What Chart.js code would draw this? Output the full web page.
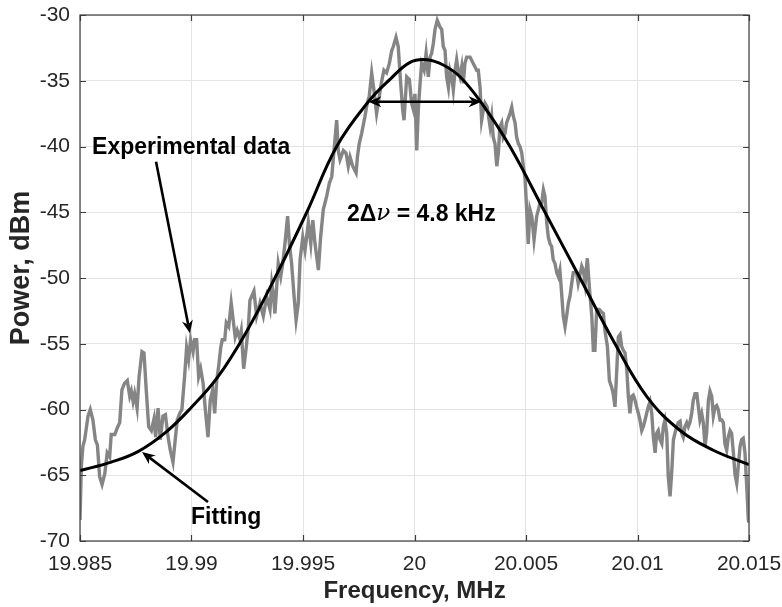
<!DOCTYPE html>
<html>
<head>
<meta charset="utf-8">
<script src="https://cdn.jsdelivr.net/npm/chart.js@4/dist/chart.umd.min.js"></script>
<style>
  html, body { margin: 0; padding: 0; background: #fff; }
  #wrap { width: 782px; height: 607px; }
</style>
</head>
<body>
<div id="wrap"><canvas id="myChart" width="782" height="607"></canvas></div>
<script>
const FONT = '"Liberation Sans", Arial, Helvetica, sans-serif';

const freqMHz = [
  19.98500, 19.98506, 19.98513, 19.98521, 19.98536, 19.98546, 19.98558, 19.98569, 19.98578, 19.98588,
  19.98599, 19.98611, 19.98622, 19.98633, 19.98640, 19.98656, 19.98667, 19.98678, 19.98688, 19.98700,
  19.98712, 19.98723, 19.98730, 19.98738, 19.98745, 19.98756, 19.98765, 19.98778, 19.98787, 19.98797,
  19.98808, 19.98820, 19.98832, 19.98839, 19.98850, 19.98860, 19.98872, 19.98883, 19.98895, 19.98905,
  19.98917, 19.98927, 19.98936, 19.98947, 19.98957, 19.98969, 19.98978, 19.98987, 19.98996, 19.99007,
  19.99014, 19.99023, 19.99032, 19.99041, 19.99052, 19.99062, 19.99074, 19.99084, 19.99095, 19.99104,
  19.99113, 19.99122, 19.99131, 19.99138, 19.99149, 19.99156, 19.99167, 19.99178, 19.99187, 19.99196,
  19.99205, 19.99216, 19.99223, 19.99234, 19.99246, 19.99255, 19.99262, 19.99280, 19.99292, 19.99307,
  19.99322, 19.99337, 19.99352, 19.99360, 19.99367, 19.99374, 19.99382, 19.99389, 19.99400, 19.99409,
  19.99419, 19.99431, 19.99439, 19.99449, 19.99460, 19.99469, 19.99479, 19.99487, 19.99499, 19.99509,
  19.99524, 19.99535, 19.99544, 19.99554, 19.99569, 19.99579, 19.99591, 19.99606, 19.99618, 19.99629,
  19.99639, 19.99651, 19.99658, 19.99666, 19.99681, 19.99693, 19.99703, 19.99711, 19.99723, 19.99738,
  19.99744, 19.99752, 19.99763, 19.99778, 19.99788, 19.99797, 19.99808, 19.99818, 19.99830, 19.99842,
  19.99851, 19.99863, 19.99875, 19.99887, 19.99898, 19.99905, 19.99917, 19.99927, 19.99938, 19.99947,
  19.99953, 19.99965, 19.99977, 19.99987, 19.99995, 20.00002, 20.00010, 20.00017, 20.00025, 20.00032,
  20.00043, 20.00052, 20.00062, 20.00070, 20.00077, 20.00084, 20.00092, 20.00102, 20.00114, 20.00122,
  20.00129, 20.00137, 20.00144, 20.00152, 20.00159, 20.00167, 20.00174, 20.00182, 20.00189, 20.00196,
  20.00204, 20.00212, 20.00219, 20.00226, 20.00234, 20.00249, 20.00264, 20.00279, 20.00286, 20.00294,
  20.00301, 20.00309, 20.00316, 20.00326, 20.00339, 20.00346, 20.00353, 20.00361, 20.00369, 20.00376,
  20.00383, 20.00391, 20.00398, 20.00406, 20.00413, 20.00428, 20.00436, 20.00443, 20.00451, 20.00458,
  20.00466, 20.00473, 20.00481, 20.00488, 20.00496, 20.00503, 20.00510, 20.00518, 20.00526, 20.00536,
  20.00548, 20.00563, 20.00570, 20.00578, 20.00585, 20.00593, 20.00600, 20.00608, 20.00615, 20.00622,
  20.00630, 20.00638, 20.00645, 20.00652, 20.00660, 20.00667, 20.00675, 20.00682, 20.00690, 20.00697,
  20.00705, 20.00712, 20.00727, 20.00734, 20.00750, 20.00757, 20.00765, 20.00775, 20.00784, 20.00795,
  20.00802, 20.00809, 20.00817, 20.00829, 20.00839, 20.00847, 20.00854, 20.00865, 20.00874, 20.00884,
  20.00891, 20.00899, 20.00907, 20.00914, 20.00922, 20.00929, 20.00936, 20.00944, 20.00952, 20.00959,
  20.00966, 20.00974, 20.00981, 20.00989, 20.00996, 20.01004, 20.01011, 20.01019, 20.01026, 20.01034,
  20.01041, 20.01048, 20.01056, 20.01064, 20.01071, 20.01079, 20.01086, 20.01093, 20.01101, 20.01109,
  20.01116, 20.01123, 20.01131, 20.01138, 20.01146, 20.01153, 20.01161, 20.01168, 20.01176, 20.01183,
  20.01191, 20.01198, 20.01205, 20.01213, 20.01221, 20.01228, 20.01235, 20.01243, 20.01250, 20.01258,
  20.01266, 20.01273, 20.01280, 20.01288, 20.01295, 20.01303, 20.01310, 20.01318, 20.01325, 20.01333,
  20.01340, 20.01348, 20.01355, 20.01362, 20.01370, 20.01378, 20.01385, 20.01392, 20.01400, 20.01407,
  20.01415, 20.01422, 20.01430, 20.01437, 20.01445, 20.01452, 20.01460, 20.01467, 20.01474, 20.01482,
  20.01490, 20.01497, 20.01500
];
const powerDbm = [
  -68.4, -64.3, -62.8, -62.3, -60.5, -60.0, -60.8, -62.3, -62.7, -65.1,
  -65.7, -64.9, -63.3, -63.6, -61.9, -61.9, -61.4, -61.0, -58.5, -58.0,
  -57.8, -59.0, -58.6, -59.4, -58.8, -59.9, -57.5, -55.6, -55.7, -58.5,
  -61.3, -61.6, -60.7, -62.1, -59.9, -62.3, -60.5, -60.4, -62.1, -63.1,
  -64.0, -62.3, -60.8, -60.3, -60.0, -57.5, -55.3, -56.2, -54.7, -55.6,
  -54.7, -54.7, -57.5, -56.9, -58.0, -60.0, -62.1, -59.3, -58.5, -60.3,
  -57.8, -56.7, -55.3, -54.7, -54.7, -53.4, -53.7, -51.9, -53.2, -54.5,
  -54.0, -54.6, -54.0, -56.9, -55.2, -53.7, -51.7, -51.0, -52.9, -51.9,
  -52.9, -51.4, -52.4, -50.4, -51.2, -52.7, -50.7, -48.9, -49.9, -48.9,
  -47.4, -45.3, -47.4, -48.9, -51.4, -53.2, -51.9, -48.6, -46.9, -47.9,
  -45.8, -47.4, -45.6, -47.4, -49.4, -46.9, -44.8, -43.8, -42.8, -42.3,
  -40.3, -38.0, -40.3, -41.0, -40.3, -40.5, -41.5, -40.8, -41.5, -42.0,
  -40.8, -39.8, -39.0, -37.7, -36.7, -36.2, -34.4, -35.7, -37.5, -36.2,
  -35.2, -34.2, -34.4, -33.7, -32.7, -32.4, -31.7, -32.4, -35.2, -37.2,
  -38.0, -34.7, -34.9, -36.7, -37.2, -36.0, -40.3, -37.2, -35.2, -33.7,
  -34.2, -32.9, -34.7, -33.2, -32.9, -32.2, -31.1, -30.4, -30.9, -31.1,
  -32.4, -32.7, -34.7, -35.5, -34.2, -34.7, -35.7, -34.2, -33.4, -34.2,
  -34.7, -33.9, -35.2, -33.7, -33.2, -33.2, -33.7, -34.2, -34.2, -35.5,
  -38.0, -37.2, -36.7, -37.0, -38.5, -37.7, -39.3, -39.8, -41.5, -40.5,
  -38.5, -38.2, -39.3, -39.0, -38.2, -37.5, -37.0, -37.7, -38.2, -39.3,
  -39.8, -40.0, -40.5, -41.5, -42.5, -44.8, -47.4, -44.8, -45.3, -47.1,
  -45.3, -44.3, -44.3, -43.3, -43.8, -45.8, -46.9, -47.4, -47.6, -48.6,
  -48.9, -49.6, -49.9, -49.4, -51.2, -52.9, -53.7, -52.9, -51.9, -51.4,
  -50.4, -49.6, -49.6, -50.4, -49.1, -49.4, -50.4, -48.5, -50.7, -52.9,
  -55.5, -55.5, -52.4, -52.4, -52.6, -52.7, -54.0, -55.2, -57.8, -58.3,
  -58.8, -59.8, -57.0, -54.5, -54.3, -55.2, -55.5, -55.7, -57.0, -59.0,
  -60.3, -59.0, -58.9, -59.3, -59.8, -60.3, -60.8, -61.6, -61.3, -60.8,
  -60.3, -59.8, -59.4, -60.3, -62.1, -63.3, -61.8, -61.6, -62.3, -62.6,
  -61.3, -60.8, -61.8, -65.1, -66.6, -64.9, -62.3, -61.8, -61.3, -61.0,
  -60.9, -61.8, -62.1, -61.3, -61.0, -61.3, -61.0, -60.3, -59.3, -58.8,
  -58.8, -59.8, -60.8, -60.3, -61.0, -62.8, -61.8, -59.3, -58.6, -59.0,
  -60.5, -59.8, -59.7, -60.0, -60.8, -60.8, -61.0, -62.6, -63.1, -62.1,
  -61.6, -61.8, -63.3, -64.9, -65.6, -64.3, -62.8, -62.3, -62.2, -63.3,
  -65.9, -68.4, -68.6
];

// fitted curve, sampled off the figure
const fitFreqMHz = [
  19.98500, 19.98640, 19.98760, 19.98880, 19.98996, 19.99119, 19.99246, 19.99374, 19.99517,
  19.99651, 19.99793, 19.99890, 19.99980, 20.00055, 20.00129, 20.00204, 20.00301, 20.00428,
  20.00585, 20.00742, 20.00899, 20.01041, 20.01191, 20.01340, 20.01500
];
const fitDbm = [
  -64.65, -64.0, -63.2, -61.8, -59.9, -57.5, -54.1, -50.0, -45.0,
  -40.0, -36.6, -34.9, -33.6, -33.4, -33.8, -34.7, -36.7, -40.0,
  -45.0, -50.0, -55.0, -59.0, -61.6, -63.1, -64.2
];

const xTicks = [19.985, 19.99, 19.995, 20, 20.005, 20.01, 20.015];
const yTicks = [-70, -65, -60, -55, -50, -45, -40, -35, -30];

// linewidth marker (data units)
const fwhmLeft = 19.99793;
const fwhmRight = 20.00301;
const fwhmLevel = -36.6;

function toPoints(xs, ys) {
  return xs.map((v, i) => ({ x: v, y: ys[i] }));
}

function arrowHead(ctx, tx, ty, fx, fy) {
  const ang = Math.atan2(ty - fy, tx - fx);
  ctx.save();
  ctx.translate(tx, ty);
  ctx.rotate(ang);
  ctx.beginPath();
  ctx.moveTo(0, 0);
  ctx.lineTo(-13, -5.5);
  ctx.lineTo(-9, 0);
  ctx.lineTo(-13, 5.5);
  ctx.closePath();
  ctx.fill();
  ctx.restore();
}

function arrow(ctx, x1, y1, x2, y2, both) {
  const len = Math.hypot(x2 - x1, y2 - y1);
  const ux = (x2 - x1) / len, uy = (y2 - y1) / len;
  const sx = both ? x1 + ux * 9 : x1, sy = both ? y1 + uy * 9 : y1;
  ctx.beginPath();
  ctx.moveTo(sx, sy);
  ctx.lineTo(x2 - ux * 9, y2 - uy * 9);
  ctx.stroke();
  arrowHead(ctx, x2, y2, x1, y1);
  if (both) arrowHead(ctx, x1, y1, x2, y2);
}

const boxPlugin = {
  id: 'box',
  afterDraw(chart) {
    const { ctx, chartArea: a, scales: { x, y } } = chart;
    ctx.save();
    ctx.strokeStyle = '#3c3c3c';
    ctx.lineWidth = 1.2;
    ctx.strokeRect(a.left, a.top, a.right - a.left, a.bottom - a.top);
    ctx.beginPath();
    xTicks.forEach((v) => {
      const px = Math.round(x.getPixelForValue(v)) + 0.5;
      ctx.moveTo(px, a.bottom); ctx.lineTo(px, a.bottom - 6);
      ctx.moveTo(px, a.top); ctx.lineTo(px, a.top + 6);
    });
    yTicks.forEach((v) => {
      const py = Math.round(y.getPixelForValue(v)) + 0.5;
      ctx.moveTo(a.left, py); ctx.lineTo(a.left + 6, py);
      ctx.moveTo(a.right, py); ctx.lineTo(a.right - 6, py);
    });
    ctx.stroke();

    // y axis title (sits a bit above the axis middle in the original)
    ctx.translate(22, (a.top + a.bottom) / 2 - 10);
    ctx.rotate(-Math.PI / 2);
    ctx.textAlign = 'center';
    ctx.textBaseline = 'middle';
    ctx.fillStyle = '#262626';
    ctx.font = 'bold 27px ' + FONT;
    ctx.fillText('Power, dBm', 0, 0);
    ctx.restore();
  }
};

const notesPlugin = {
  id: 'notes',
  afterDatasetsDraw(chart) {
    const { ctx, scales: { x, y } } = chart;
    const X = (v) => x.getPixelForValue(v);
    const Y = (v) => y.getPixelForValue(v);
    ctx.save();
    ctx.fillStyle = '#000';
    ctx.strokeStyle = '#000';
    ctx.lineWidth = 2.6;
    ctx.textBaseline = 'middle';
    ctx.font = 'bold 23px ' + FONT;
    ctx.fillText('Experimental data', X(19.98554), Y(-40.1));
    arrow(ctx, X(19.98841), Y(-41.16), X(19.98993), Y(-54.21), false);

    ctx.fillText('Fitting', X(19.98998), Y(-68.25));
    arrow(ctx, X(19.99074), Y(-67.03), X(19.98778), Y(-63.23), false);

    arrow(ctx, X(fwhmLeft), Y(fwhmLevel), X(fwhmRight), Y(fwhmLevel), true);

    // 2Δν = 4.8 kHz
    let tx = X(19.99697);
    const ty = Y(-45.17);
    ctx.fillText('2\u0394', tx, ty);
    tx += ctx.measureText('2\u0394').width;
    ctx.font = 'italic 23px "DejaVu Serif", serif';
    ctx.fillText('\u03bd', tx, ty);
    tx += ctx.measureText('\u03bd').width;
    ctx.font = 'bold 23px ' + FONT;
    ctx.fillText(' = 4.8 kHz', tx, ty);
    ctx.restore();
  }
};

const ctx = document.getElementById('myChart');

new Chart(ctx, {
  type: 'line',
  data: {
    datasets: [{
      label: 'Fitting',
      data: toPoints(fitFreqMHz, fitDbm),
      borderColor: '#000000',
      borderWidth: 3,
      tension: 0.4,
      pointRadius: 0,
      order: 0
    }, {
      label: 'Experimental data',
      data: toPoints(freqMHz, powerDbm),
      borderColor: '#858585',
      borderWidth: 3.4,
      tension: 0,
      pointRadius: 0,
      order: 1
    }]
  },
  options: {
    responsive: false,
    animation: false,
    layout: { padding: { top: 15, right: 33, left: 0, bottom: 0 } },
    plugins: { legend: { display: false }, tooltip: { enabled: false } },
    scales: {
      x: {
        type: 'linear',
        min: 19.985,
        max: 20.015,
        afterBuildTicks: (s) => { s.ticks = xTicks.map((v) => ({ value: v })); },
        afterFit: (s) => {
          s.height = 66;
          s.paddingLeft = 0;
          s.paddingRight = 0;
        },
        border: { display: false },
        grid: { color: '#e4e4e4', lineWidth: 1, drawTicks: false },
        ticks: {
          padding: 11,
          color: '#262626',
          autoSkip: false,
          maxRotation: 0,
          font: { family: FONT, size: 21 },
          callback: (v) => String(v)
        },
        title: {
          display: true,
          text: 'Frequency, MHz',
          color: '#262626',
          font: { family: FONT, size: 24, weight: 'bold' },
          padding: { top: 0, bottom: 1 }
        }
      },
      y: {
        min: -70,
        max: -30,
        afterBuildTicks: (s) => { s.ticks = yTicks.map((v) => ({ value: v })); },
        afterFit: (s) => {
          s.width = 80;
          s.paddingTop = 0;
          s.paddingBottom = 0;
        },
        border: { display: false },
        grid: { color: '#e4e4e4', lineWidth: 1, drawTicks: false },
        ticks: {
          padding: 10,
          color: '#262626',
          font: { family: FONT, size: 21 },
          callback: (v) => String(v)
        }
      }
    }
  },
  plugins: [boxPlugin, notesPlugin]
});
</script>
</body>
</html>
